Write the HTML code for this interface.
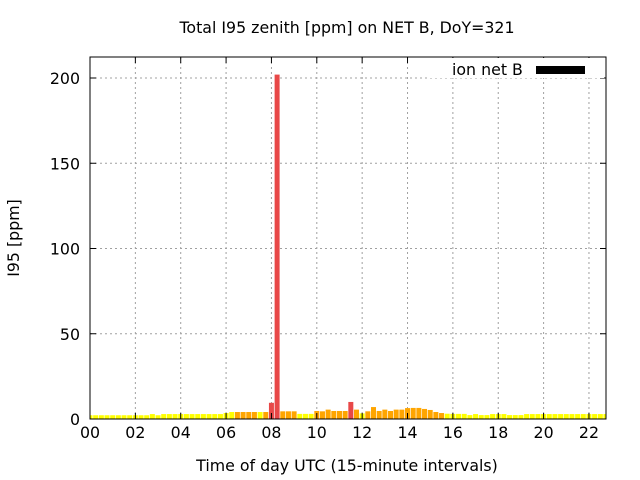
<!DOCTYPE html>
<html><head><meta charset="utf-8"><style>
body{margin:0;background:#fff;}
svg{display:block;font-family:"DejaVu Sans","Liberation Sans",sans-serif;}
</style></head><body>
<svg id="chart" width="640" height="480">
<defs><clipPath id="pc"><rect x="90" y="57" width="516" height="362"/></clipPath></defs>
<text x="347" y="33" font-size="15.8" text-anchor="middle">Total I95 zenith [ppm] on NET B, DoY=321</text>
<text x="347" y="471" font-size="15.8" text-anchor="middle">Time of day UTC (15-minute intervals)</text>
<text transform="translate(19,238) rotate(-90)" font-size="15.8" text-anchor="middle">I95 [ppm]</text>
<g id="grid"></g><g id="bars" clip-path="url(#pc)"></g><g id="axes"></g>
<rect x="428" y="58" width="176" height="20" fill="#fff"/>
<text x="452" y="75" font-size="15.8">ion net B</text>
<rect x="536" y="66" width="49" height="8" fill="#000"/>
</svg>
<script>
const values=[2.2,2.2,2.2,2.2,2.2,2.2,2.2,2.2,2.2,2.2,2.2,2.9,2.2,2.9,2.9,2.9,2.9,2.9,2.9,2.9,2.9,2.9,2.9,2.9,3.5,4.1,4.1,4.1,4.1,4.1,4.1,4.1,
9.5,202,4.5,4.5,4.5,3,3,3,4.7,4.5,5.5,4.7,4.7,4.7,10,5.5,3.3,4.5,7,4.7,5.5,4.7,5.5,5.5,6.4,6.5,6.5,5.9,5.3,4.1,3.5,3.1,3,3,3,2.3,2.9,2.3,2.3,2.9,2.9,2.9,2.3,2.3,2.3,2.9,2.9,2.9,2.9,2.9,2.9,2.9,2.9,2.9,2.9,2.9,2.9,2.9,2.9,2.9];
const levels=[0,0,0,0,0,0,0,0,0,0,0,0,0,0,0,0,0,0,0,0,0,0,0,0,0,0,1,1,1,1,0,1,
2,2,1,1,1,0,0,0,1,1,1,1,1,1,2,1,0,1,1,1,1,1,1,1,1,1,1,1,1,1,1,0,0,0,0,0,0,0,0,0,0,0,0,0,0,0,0,0,0,0,0,0,0,0,0,0,0,0,0,0];
const yTicks=[0,50,100,150,200];
const xTickLabels=["00","02","04","06","08","10","12","14","16","18","20","22"];
const colors=["#ffff00","#ffa500","#e84848"];
const NS="http://www.w3.org/2000/svg";
const L=90,R=606,T=57,B=419;
const xs=h=>L+h*22.68;
const ys=v=>B-v*1.705;
function mk(tag,attrs,parent){const e=document.createElementNS(NS,tag);for(const k in attrs)e.setAttribute(k,attrs[k]);document.getElementById(parent).appendChild(e);return e;}
yTicks.forEach(v=>{
 const y=ys(v);
 if(v>0){const g=mk('line',{x1:L,x2:R,y1:y,y2:y,stroke:'#a0a0a0','stroke-dasharray':'2,3'},'grid');
 
 }
 const t=mk('text',{x:L-10,y:y+6,'font-size':15.8,'text-anchor':'end'},'axes');t.textContent=v;
 
 
 mk('line',{x1:L,x2:L+6,y1:y,y2:y,stroke:'#000'},'axes');mk('line',{x1:R,x2:R-6,y1:y,y2:y,stroke:'#000'},'axes');
});
xTickLabels.forEach((lab,i)=>{
 const x=xs(i*2);
 if(i>0){const g=mk('line',{x1:x,x2:x,y1:T,y2:B,stroke:'#a0a0a0','stroke-dasharray':'2,3'},'grid');
 
 }
 const t=mk('text',{x:x,y:B+19,'font-size':15.8,'text-anchor':'middle'},'axes');t.textContent=lab;
 
 
 mk('line',{x1:x,x2:x,y1:B,y2:B-6,stroke:'#000'},'axes');mk('line',{x1:x,x2:x,y1:T,y2:T+6,stroke:'#000'},'axes');
});
values.forEach((v,i)=>{
 if(v<=0)return;
 const x=xs(i*0.25),y=ys(v);
 const b=mk('rect',{x:x-2.5,y:y,width:5,height:B-y,fill:colors[levels[i]]},'bars');
 
 
});
const f=mk('rect',{x:L,y:T,width:R-L,height:B-T,fill:'none',stroke:'#000','stroke-width':1},'axes');


</script>
</body></html>
